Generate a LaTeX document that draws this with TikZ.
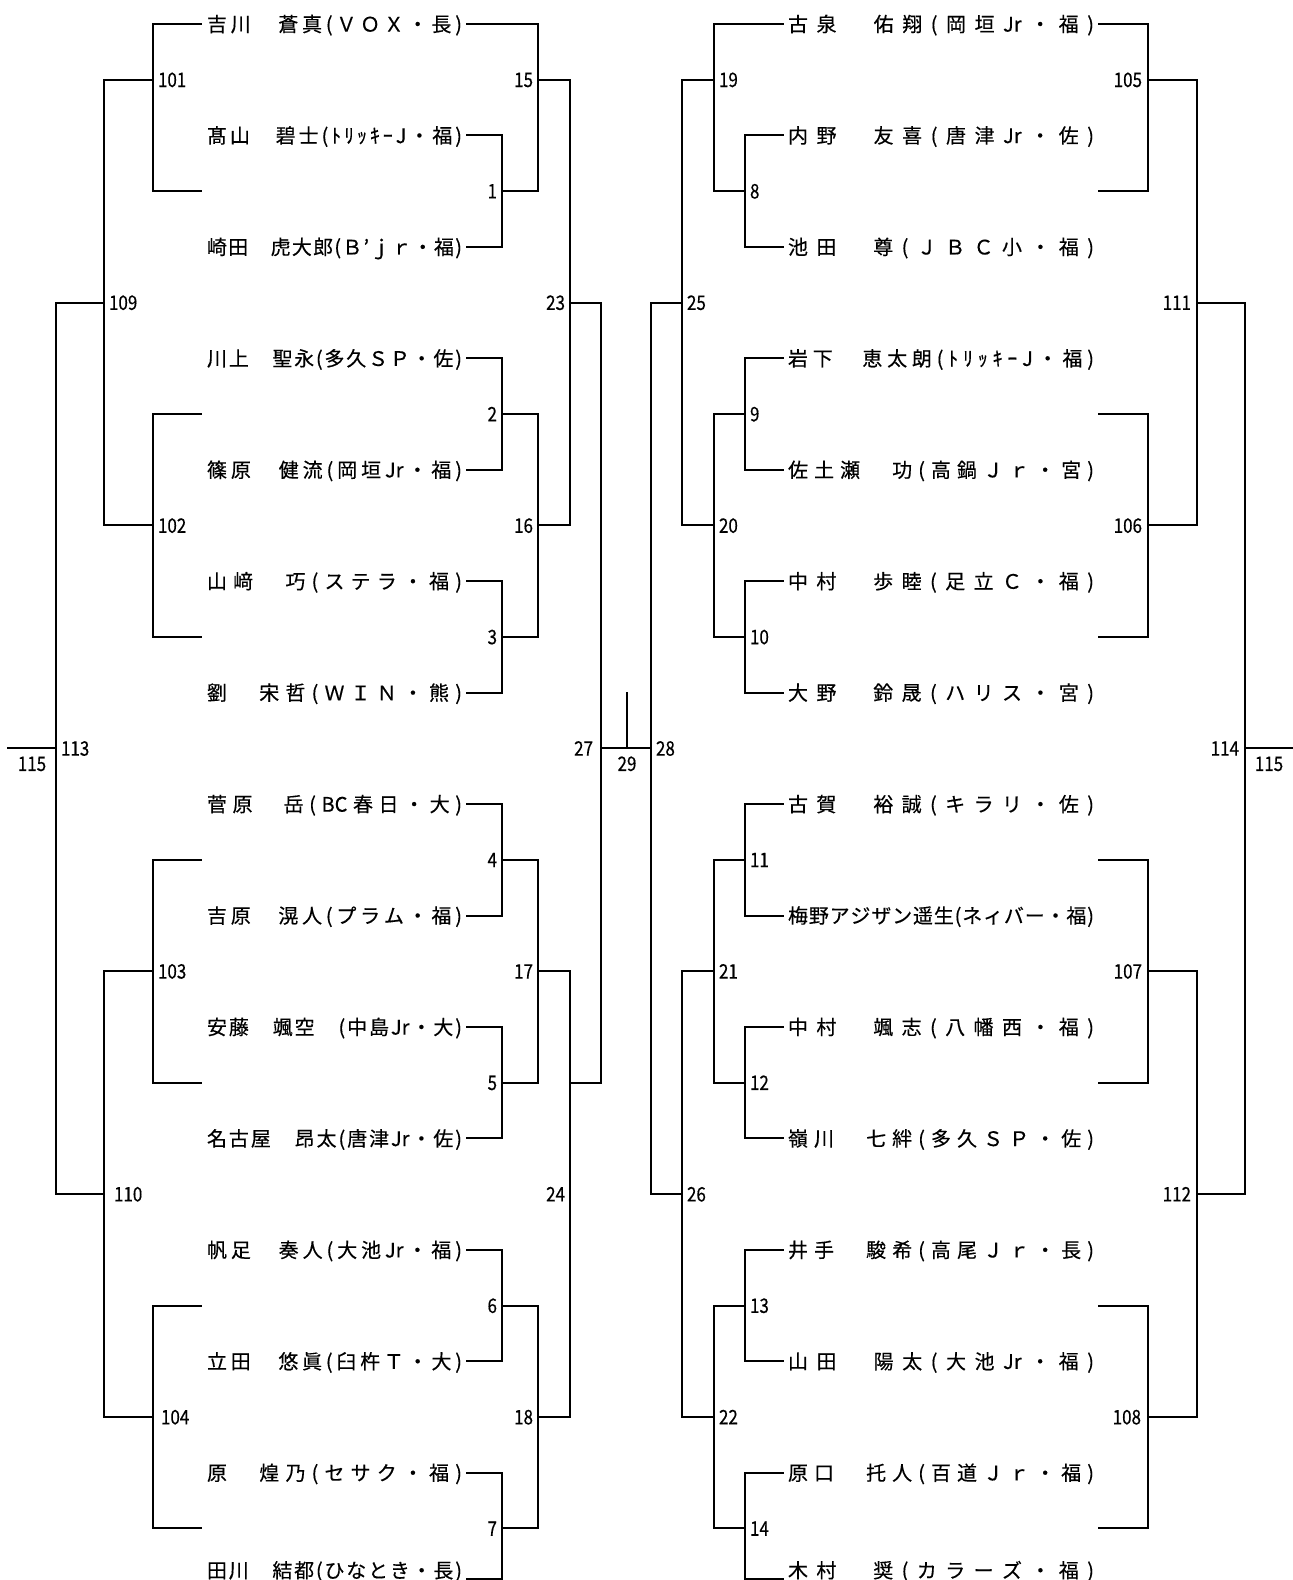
\documentclass[tikz,border=0pt]{standalone}
\usepackage{fontspec}
\newfontfamily\jp[FakeBold=0.35]{Noto Sans CJK JP}
\newfontfamily\jpnum[FakeStretch=0.85,FakeBold=0.35]{Noto Sans CJK JP}
\ExplSyntaxOn
\bool_new:N \l_dist_first_bool
\NewDocumentCommand \dist { m }
  {
    \bool_set_true:N \l_dist_first_bool
    \tl_map_inline:nn {#1}
      {
        \bool_if:NTF \l_dist_first_bool
          { \bool_set_false:N \l_dist_first_bool }
          { \hfill }
        ##1
      }
  }
\ExplSyntaxOff
\newcommand\lbox[1]{\makebox[255pt][s]{\dist{#1}}}
\newcommand\rbox[1]{\makebox[306pt][s]{\dist{#1}}}
\tikzset{
  ln/.style={line width=2pt, line join=miter, line cap=rect},
  nm/.style={inner sep=0pt, outer sep=0pt, anchor=west,
    font=\jp\fontsize{20}{22}\selectfont, text height=17.6pt, text depth=2.4pt},
  num/.style={inner sep=0pt, outer sep=0pt,
    font=\jpnum\fontsize{20}{22}\selectfont, text height=14.6pt, text depth=0pt},
  nl/.style={num, anchor=west},
  nr/.style={num, anchor=east},
  nb/.style={num, anchor=north},
}
\begin{document}
\begin{tikzpicture}[x=1pt,y=-55.72pt]
\useasboundingbox (0,-0.43072) rectangle (1292,27.9253);
\fill[white] (0,-0.43072) rectangle (1292,27.9253);

% ---------- left names ----------
\node[nm] (L0)  at (207,0)  {\lbox{吉川　蒼真(ＶＯＸ・長)}};
\node[nm] (L1)  at (207,2)  {\lbox{髙山　碧士(ﾄﾘｯｷｰJ・福)}};
\node[nm] (L2)  at (207,4)  {\lbox{崎田　虎大郎(Ｂ’ｊｒ・福)}};
\node[nm] (L3)  at (207,6)  {\lbox{川上　聖永(多久ＳＰ・佐)}};
\node[nm] (L4)  at (207,8)  {\lbox{篠原　健流(岡垣{Jr}・福)}};
\node[nm] (L5)  at (207,10) {\lbox{山﨑　巧(ステラ・福)}};
\node[nm] (L6)  at (207,12) {\lbox{劉　宋哲(ＷＩＮ・熊)}};
\node[nm] (L7)  at (207,14) {\lbox{菅原　岳({BC}春日・大)}};
\node[nm] (L8)  at (207,16) {\lbox{吉原　滉人(プラム・福)}};
\node[nm] (L9)  at (207,18) {\lbox{安藤　颯空　(中島{Jr}・大)}};
\node[nm] (L10) at (207,20) {\lbox{名古屋　昂太(唐津{Jr}・佐)}};
\node[nm] (L11) at (207,22) {\lbox{帆足　奏人(大池{Jr}・福)}};
\node[nm] (L12) at (207,24) {\lbox{立田　悠眞(臼杵Ｔ・大)}};
\node[nm] (L13) at (207,26) {\lbox{原　煌乃(セサク・福)}};
\node[nm] (L14) at (207,27.75) {\lbox{田川　結都(ひなとき・長)}};

% ---------- right names ----------
\node[nm] (R0)  at (788,0)  {\rbox{古泉　佑翔(岡垣{Jr}・福)}};
\node[nm] (R1)  at (788,2)  {\rbox{内野　友喜(唐津{Jr}・佐)}};
\node[nm] (R2)  at (788,4)  {\rbox{池田　尊(ＪＢＣ小・福)}};
\node[nm] (R3)  at (788,6)  {\rbox{岩下　恵太朗(ﾄﾘｯｷｰJ・福)}};
\node[nm] (R4)  at (788,8)  {\rbox{佐土瀬　功(高鍋Ｊｒ・宮)}};
\node[nm] (R5)  at (788,10) {\rbox{中村　歩睦(足立Ｃ・福)}};
\node[nm] (R6)  at (788,12) {\rbox{大野　鈴晟(ハリス・宮)}};
\node[nm] (R7)  at (788,14) {\rbox{古賀　裕誠(キラリ・佐)}};
\node[nm] (R8)  at (788,16) {\rbox{梅野アジザン遥生(ネィバー・福)}};
\node[nm] (R9)  at (788,18) {\rbox{中村　颯志(八幡西・福)}};
\node[nm] (R10) at (788,20) {\rbox{嶺川　七絆(多久ＳＰ・佐)}};
\node[nm] (R11) at (788,22) {\rbox{井手　駿希(高尾Ｊｒ・長)}};
\node[nm] (R12) at (788,24) {\rbox{山田　陽太(大池{Jr}・福)}};
\node[nm] (R13) at (788,26) {\rbox{原口　托人(百道Ｊｒ・福)}};
\node[nm] (R14) at (788,27.75) {\rbox{木村　奨(カラーズ・福)}};

% ---------- line points at names ----------
\foreach \i in {0,...,13}{
  \coordinate (aL\i) at ([xshift=5pt]L\i.east);
  \coordinate (bR\i) at ([xshift=-5pt]R\i.west);
}
\coordinate (aL14) at ([xshift=5pt,yshift=-9pt]L14.east);
\coordinate (bR14) at ([xshift=-5pt,yshift=-9pt]R14.west);
\coordinate (cL0) at ([xshift=-6pt]L0.west);
\coordinate (dR0) at ([xshift=5pt]R0.east);

% ---------- match points ----------
\coordinate (m1) at (502,3);  \coordinate (m2) at (502,7);
\coordinate (m3) at (502,11); \coordinate (m4) at (502,15);
\coordinate (m5) at (502,19); \coordinate (m6) at (502,23);
\coordinate (m7) at (502,27);
\coordinate (m15) at (538,1);  \coordinate (m16) at (538,9);
\coordinate (m17) at (538,17); \coordinate (m18) at (538,25);
\coordinate (m23) at (570,5);  \coordinate (m24) at (570,21);
\coordinate (o24) at (570,19);
\coordinate (m27) at (601,13); \coordinate (m29) at (627,12);
\coordinate (m28) at (651,13);
\coordinate (m8) at (745,3);  \coordinate (m9) at (745,7);
\coordinate (m10) at (745,11); \coordinate (m11) at (745,15);
\coordinate (m12) at (745,19); \coordinate (m13) at (745,23);
\coordinate (m14) at (745,27);
\coordinate (m19) at (714,1);  \coordinate (m20) at (714,9);
\coordinate (m21) at (714,17); \coordinate (m22) at (714,25);
\coordinate (m25) at (682,5);  \coordinate (m26) at (682,21);
\coordinate (m101) at (153,1);  \coordinate (m102) at (153,9);
\coordinate (m103) at (153,17); \coordinate (m104) at (153,25);
\coordinate (m109) at (104,5);  \coordinate (m110) at (104,21);
\coordinate (m113) at (56,13);  \coordinate (e115L) at (8,13);
\coordinate (s1) at (201,3);  \coordinate (s2) at (201,7);
\coordinate (s3) at (201,11); \coordinate (s4) at (201,15);
\coordinate (s5) at (201,19); \coordinate (s6) at (201,23);
\coordinate (s7) at (201,27);
\coordinate (m105) at (1148,1);  \coordinate (m106) at (1148,9);
\coordinate (m107) at (1148,17); \coordinate (m108) at (1148,25);
\coordinate (m111) at (1197,5);  \coordinate (m112) at (1197,21);
\coordinate (m114) at (1245,13); \coordinate (e115R) at (1292,13);
\coordinate (t8) at (1099,3);  \coordinate (t9) at (1099,7);
\coordinate (t10) at (1099,11); \coordinate (t11) at (1099,15);
\coordinate (t12) at (1099,19); \coordinate (t13) at (1099,23);
\coordinate (t14) at (1099,27);

% ---------- left main bracket ----------
\draw[ln] (aL1) -- (aL1 -| m1) -- (aL2 -| m1) -- (aL2);
\draw[ln] (aL3) -- (aL3 -| m2) -- (aL4 -| m2) -- (aL4);
\draw[ln] (aL5) -- (aL5 -| m3) -- (aL6 -| m3) -- (aL6);
\draw[ln] (aL7) -- (aL7 -| m4) -- (aL8 -| m4) -- (aL8);
\draw[ln] (aL9) -- (aL9 -| m5) -- (aL10 -| m5) -- (aL10);
\draw[ln] (aL11) -- (aL11 -| m6) -- (aL12 -| m6) -- (aL12);
\draw[ln] (aL13) -- (aL13 -| m7) -- (aL14 -| m7) -- (aL14);
\draw[ln] (aL0) -- (aL0 -| m15) -- (m1 -| m15) -- (m1);
\draw[ln] (m2) -- (m2 -| m16) -- (m3 -| m16) -- (m3);
\draw[ln] (m4) -- (m4 -| m17) -- (m5 -| m17) -- (m5);
\draw[ln] (m6) -- (m6 -| m18) -- (m7 -| m18) -- (m7);
\draw[ln] (m15) -- (m15 -| m23) -- (m16 -| m23) -- (m16);
\draw[ln] (m17) -- (m17 -| m24) -- (m18 -| m24) -- (m18);
\draw[ln] (m23) -- (m23 -| m27) -- (o24 -| m27) -- (o24);
\draw[ln] (m29) -- (m29 |- m27);
\draw[ln] (m27) -- (m28);

% ---------- right main bracket ----------
\draw[ln] (bR1) -- (bR1 -| m8) -- (bR2 -| m8) -- (bR2);
\draw[ln] (bR3) -- (bR3 -| m9) -- (bR4 -| m9) -- (bR4);
\draw[ln] (bR5) -- (bR5 -| m10) -- (bR6 -| m10) -- (bR6);
\draw[ln] (bR7) -- (bR7 -| m11) -- (bR8 -| m11) -- (bR8);
\draw[ln] (bR9) -- (bR9 -| m12) -- (bR10 -| m12) -- (bR10);
\draw[ln] (bR11) -- (bR11 -| m13) -- (bR12 -| m13) -- (bR12);
\draw[ln] (bR13) -- (bR13 -| m14) -- (bR14 -| m14) -- (bR14);
\draw[ln] (bR0) -- (bR0 -| m19) -- (m8 -| m19) -- (m8);
\draw[ln] (m9) -- (m9 -| m20) -- (m10 -| m20) -- (m10);
\draw[ln] (m11) -- (m11 -| m21) -- (m12 -| m21) -- (m12);
\draw[ln] (m13) -- (m13 -| m22) -- (m14 -| m22) -- (m14);
\draw[ln] (m19) -- (m19 -| m25) -- (m20 -| m25) -- (m20);
\draw[ln] (m21) -- (m21 -| m26) -- (m22 -| m26) -- (m22);
\draw[ln] (m25) -- (m25 -| m28) -- (m26 -| m28) -- (m26);

% ---------- left 100 bracket ----------
\draw[ln] (cL0) -- (cL0 -| m101) -- (s1 -| m101) -- (s1);
\draw[ln] (s2) -- (s2 -| m102) -- (s3 -| m102) -- (s3);
\draw[ln] (s4) -- (s4 -| m103) -- (s5 -| m103) -- (s5);
\draw[ln] (s6) -- (s6 -| m104) -- (s7 -| m104) -- (s7);
\draw[ln] (m101) -- (m101 -| m109) -- (m102 -| m109) -- (m102);
\draw[ln] (m103) -- (m103 -| m110) -- (m104 -| m110) -- (m104);
\draw[ln] (m109) -- (m109 -| m113) -- (m110 -| m113) -- (m110);
\draw[ln] (m113) -- (e115L);

% ---------- right 100 bracket ----------
\draw[ln] (dR0) -- (dR0 -| m105) -- (t8 -| m105) -- (t8);
\draw[ln] (t9) -- (t9 -| m106) -- (t10 -| m106) -- (t10);
\draw[ln] (t11) -- (t11 -| m107) -- (t12 -| m107) -- (t12);
\draw[ln] (t13) -- (t13 -| m108) -- (t14 -| m108) -- (t14);
\draw[ln] (m105) -- (m105 -| m111) -- (m106 -| m111) -- (m106);
\draw[ln] (m107) -- (m107 -| m112) -- (m108 -| m112) -- (m108);
\draw[ln] (m111) -- (m111 -| m114) -- (m112 -| m114) -- (m112);
\draw[ln] (m114) -- (e115R);

% ---------- labels ----------
\node[nr] (n1) at ([xshift=-5pt]m1) {1};
\node[nr] (n2) at ([xshift=-5pt]m2) {2};
\node[nr] (n3) at ([xshift=-5pt]m3) {3};
\node[nr] (n4) at ([xshift=-5pt]m4) {4};
\node[nr] (n5) at ([xshift=-5pt]m5) {5};
\node[nr] (n6) at ([xshift=-5pt]m6) {6};
\node[nr] (n7) at ([xshift=-5pt]m7) {7};
\node[nr] (n15) at ([xshift=-5pt]m15) {15};
\node[nr] (n16) at ([xshift=-5pt]m16) {16};
\node[nr] (n17) at ([xshift=-5pt]m17) {17};
\node[nr] (n18) at ([xshift=-5pt]m18) {18};
\node[nr] (n23) at ([xshift=-5pt]m23) {23};
\node[nr] (n24) at ([xshift=-5pt]m24) {24};
\node[nr] (n27) at ([xshift=-8pt]m27) {27};
\node[nb] (n29) at ([yshift=-8pt]m29 |- m27) {29};
\node[nl] (n28) at ([xshift=5pt]m28) {28};
\node[nl] (n8) at ([xshift=5pt]m8) {8};
\node[nl] (n9) at ([xshift=5pt]m9) {9};
\node[nl] (n10) at ([xshift=5pt]m10) {10};
\node[nl] (n11) at ([xshift=5pt]m11) {11};
\node[nl] (n12) at ([xshift=5pt]m12) {12};
\node[nl] (n13) at ([xshift=5pt]m13) {13};
\node[nl] (n14) at ([xshift=5pt]m14) {14};
\node[nl] (n19) at ([xshift=5pt]m19) {19};
\node[nl] (n20) at ([xshift=5pt]m20) {20};
\node[nl] (n21) at ([xshift=5pt]m21) {21};
\node[nl] (n22) at ([xshift=5pt]m22) {22};
\node[nl] (n25) at ([xshift=5pt]m25) {25};
\node[nl] (n26) at ([xshift=5pt]m26) {26};
\node[nl] (n101) at ([xshift=5pt]m101) {101};
\node[nl] (n102) at ([xshift=5pt]m102) {102};
\node[nl] (n103) at ([xshift=5pt]m103) {103};
\node[nl] (n104) at ([xshift=8pt]m104) {104};
\node[nl] (n109) at ([xshift=5pt]m109) {109};
\node[nl] (n110) at ([xshift=10pt]m110) {110};
\node[nl] (n113) at ([xshift=5pt]m113) {113};
\node[nr] (n105) at ([xshift=-6pt]m105) {105};
\node[nr] (n106) at ([xshift=-6pt]m106) {106};
\node[nr] (n107) at ([xshift=-6pt]m107) {107};
\node[nr] (n108) at ([xshift=-7pt]m108) {108};
\node[nr] (n111) at ([xshift=-6pt]m111) {111};
\node[nr] (n112) at ([xshift=-6pt]m112) {112};
\node[nr] (n114) at ([xshift=-6pt]m114) {114};
\node[nb] (n115a) at ([yshift=-8pt]32,13) {115};
\node[nb] (n115b) at ([yshift=-8pt]1269,13) {115};
\end{tikzpicture}
\end{document}
